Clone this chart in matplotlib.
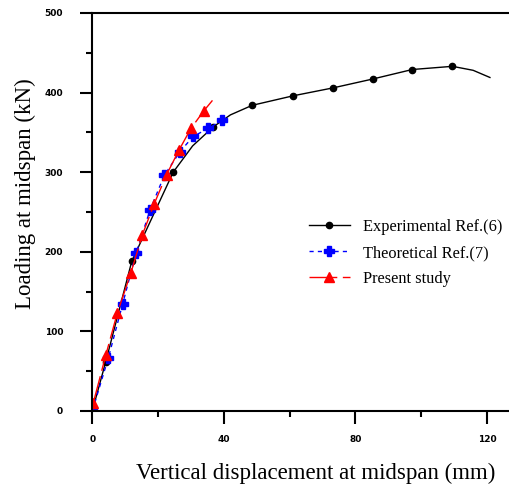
import matplotlib
matplotlib.use("Agg")
import matplotlib.pyplot as plt
from matplotlib.ticker import MultipleLocator

# experimental curve (black); extra unmarked points
exp_x = [0, 4.1, 12.0, 24.6, 30.5, 36.8, 42.0, 48.6, 61.1, 73.3, 85.2, 97.3, 109.5, 115.8, 120.9]
exp_y = [0, 62, 188, 300, 333, 357, 372, 384, 396, 406, 417, 429, 433, 428, 419]
exp_marks = [1, 2, 3, 5, 7, 8, 9, 10, 11, 12]

# theoretical (blue)
theo_x = [0, 4.9, 9.2, 13.3, 17.6, 21.9, 26.7, 30.7, 35.3, 39.3]
theo_y = [0, 67, 134, 198, 253, 296, 326, 345, 355, 365]

# present study (red), last point is the line end without marker
pres_x = [0.3, 4.1, 7.6, 11.7, 15.2, 18.8, 22.6, 26.4, 30.0, 33.9, 37.3]
pres_y = [10, 70, 123, 173, 221, 260, 297, 328, 355, 377, 394]

serif = "Liberation Serif"

fig = plt.figure(figsize=(5.09, 4.98), dpi=100)
ax = fig.add_axes([0.1813, 0.1747, 0.8187, 0.7992])

ax.plot(exp_x, exp_y, color="black", lw=1.0, marker="o", ms=4.5,
        markevery=exp_marks, label="Experimental Ref.(6)")
ax.plot(theo_x, theo_y, color="blue", lw=1.0, linestyle=(0, (3, 3)),
        marker="P", ms=7, mec="blue", mfc="blue", label="Theoretical Ref.(7)")
ax.plot(pres_x, pres_y, color="red", lw=1.0, linestyle=(0, (20, 4)),
        marker="^", ms=7, markevery=list(range(len(pres_x) - 1)),
        label="Present study")

ax.set_xlim(0, 126.7)
ax.set_ylim(0, 500)
ax.xaxis.set_major_locator(MultipleLocator(40))
ax.xaxis.set_minor_locator(MultipleLocator(20))
ax.yaxis.set_major_locator(MultipleLocator(100))
ax.yaxis.set_minor_locator(MultipleLocator(50))

for s in ["left", "bottom", "top"]:
    ax.spines[s].set_linewidth(1.5)
ax.spines["right"].set_visible(False)

ax.tick_params(which="major", direction="out", length=9, width=1.5,
               labelsize=6.5)
ax.tick_params(which="minor", direction="out", length=4.5, width=1.5)
ax.tick_params(axis="y", which="major", pad=12)
ax.tick_params(axis="x", which="major", pad=8)
for lab in ax.get_xticklabels() + ax.get_yticklabels():
    lab.set_fontweight("bold")

ax.set_xlabel("Vertical displacement at midspan (mm)", fontsize=16.5, family=serif)
ax.xaxis.set_label_coords(0.535, -0.13)
ax.set_ylabel("Loading at midspan (kN)", fontsize=16.5, family=serif)
ax.yaxis.set_label_coords(-0.135, 0.545)

ax.legend(loc="center left", bbox_to_anchor=(0.578, 0.492), bbox_transform=fig.transFigure,
          frameon=False, prop={"family": serif, "size": 11.8}, handlelength=2.5,
          handletextpad=0.8, labelspacing=0.6)

fig.savefig("out.png", dpi=100)
